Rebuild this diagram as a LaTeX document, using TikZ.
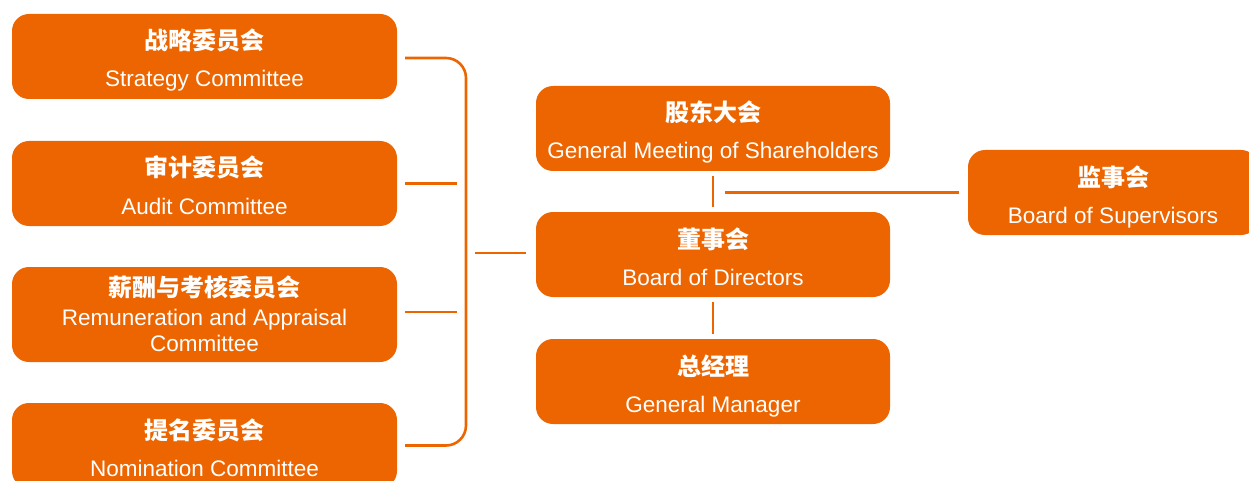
\documentclass[tikz,border=0pt]{standalone}
\usepackage{fontspec}
\setmainfont{Liberation Sans}
\newfontfamily\cjk{Noto Sans CJK SC}
\usetikzlibrary{calc}
\definecolor{org}{RGB}{236,101,0}
\begin{document}
\begin{tikzpicture}[x=1pt,y=-1pt,
 box/.style={fill=org, rounded corners=17pt, minimum height=85pt, inner sep=0pt, outer sep=0pt},
 cn/.style={text=white, font=\cjk\bfseries\fontsize{24}{28}\selectfont, anchor=base, inner sep=0pt},
 en/.style={text=white, font=\fontsize{22.5}{26}\selectfont, anchor=base, inner sep=0pt},
 conn/.style={draw=org, line width=2.6pt}]
\useasboundingbox (0,0) rectangle (1249,481);
% boxes
\node[box, minimum width=385pt] (strat) at (204.5,56.5) {};
\node[box, minimum width=385pt] (audit) at (204.5,183.5) {};
\node[box, minimum width=385pt, minimum height=95pt] (rem) at (204.5,314.5) {};
\node[box, minimum width=385pt] (nom) at (204.5,445.5) {};
\node[box, minimum width=354pt] (gm) at (713,128.5) {};
\node[box, minimum width=354pt] (bod) at (713,254.5) {};
\node[box, minimum width=354pt] (mgr) at (713,381.5) {};
\node[box, minimum width=290pt] (sup) at (1113,192.5) {};
% texts
\node[cn] (stratcn) at ($(strat.north)+(0,36)$) {战略委员会};
\node[en] (straten) at ($(strat.north)+(0,73)$) {Strategy Committee};
\node[cn] (auditcn) at ($(audit.north)+(0,36)$) {审计委员会};
\node[en] (auditen) at ($(audit.north)+(0,73)$) {Audit Committee};
\node[cn] (remcn) at ($(rem.north)+(0,29.5)$) {薪酬与考核委员会};
\node[en] (remen1) at ($(rem.north)+(0,58.3)$) {Remuneration and Appraisal};
\node[en] (remen2) at ($(rem.north)+(0,84.3)$) {Committee};
\node[cn] (nomcn) at ($(nom.north)+(0,36)$) {提名委员会};
\node[en] (nomen) at ($(nom.north)+(0,73)$) {Nomination Committee};
\node[cn] (gmcn) at ($(gm.north)+(0,36)$) {股东大会};
\node[en] (gmen) at ($(gm.north)+(0,73)$) {General Meeting of Shareholders};
\node[cn] (bodcn) at ($(bod.north)+(0,36)$) {董事会};
\node[en] (boden) at ($(bod.north)+(0,73)$) {Board of Directors};
\node[cn] (mgrcn) at ($(mgr.north)+(0,36)$) {总经理};
\node[en] (mgren) at ($(mgr.north)+(0,73)$) {General Manager};
\node[cn] (supcn) at ($(sup.north)+(0,36)$) {监事会};
\node[en] (supen) at ($(sup.north)+(0,73)$) {Board of Supervisors};
% connectors
\draw[conn, rounded corners=20pt] ([xshift=8pt,yshift=-1.5pt]strat.east) -| ([xshift=69pt]nom.east) -- ([xshift=8pt]nom.east);
\draw[conn] ([xshift=8pt]audit.east) -- ++(52,0);
\draw[conn] ([xshift=8pt,yshift=2.5pt]rem.east) -- ++(52,0);
\draw[conn] ([xshift=-10pt,yshift=1.5pt]bod.west) -- ++(-51,0);
\draw[conn, shorten <=5pt, shorten >=5pt] (gm.south) -- (bod.north);
\draw[conn, shorten <=5pt, shorten >=5pt] (bod.south) -- (mgr.north);
\draw[conn] ($(sup.west)+(-9,0)$) -- ($(gm.south|-sup.west)+(12,0)$);
\end{tikzpicture}
\end{document}
